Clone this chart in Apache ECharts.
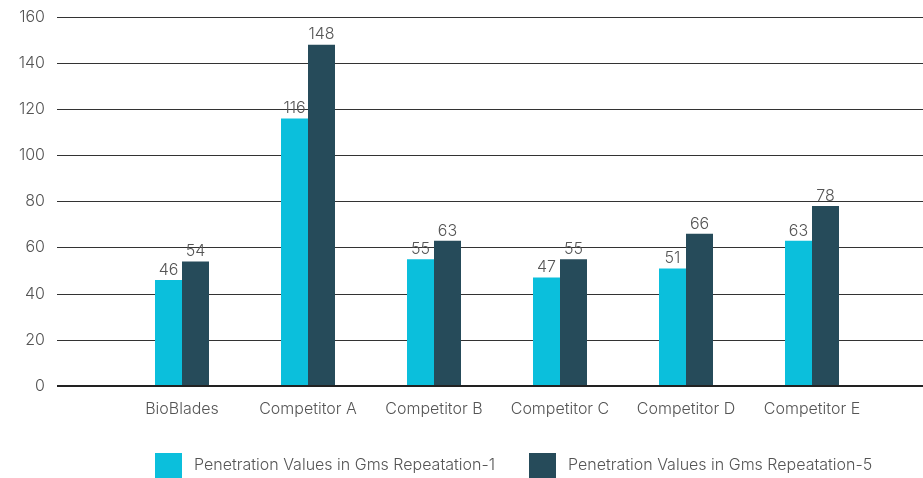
<!DOCTYPE html>
<html>
<head>
<meta charset="utf-8">
<script src="https://cdn.jsdelivr.net/npm/echarts@6/dist/echarts.min.js"></script>
<style>html,body{margin:0;padding:0;background:#fff;}#c{width:923px;height:478px;}</style>
</head>
<body>
<div id="c"></div>
<script>
const categories = ['BioBlades', 'Competitor A', 'Competitor B', 'Competitor C', 'Competitor D', 'Competitor E'];
const seriesNames = ['Penetration Values in Gms Repeatation-1', 'Penetration Values in Gms Repeatation-5'];
const rep1 = [46, 116, 55, 47, 51, 63];
const rep5 = [54, 148, 63, 55, 66, 78];
const yTicks = { min: 0, max: 160, interval: 20 };

const FONT = 'Inter';
const TXT = '#555';
const chart = echarts.init(document.getElementById('c'));
chart.setOption({
  animation: false,
  backgroundColor: '#fff',
  textStyle: { fontFamily: FONT },
  grid: [
    { left: 57, right: 0, top: 17, bottom: 92, containLabel: false },
    { left: 119, right: 48, top: 17, bottom: 92, containLabel: false }
  ],
  legend: {
    left: 150, top: 448,
    itemWidth: 27, itemHeight: 25, itemGap: 34,
    icon: 'rect',
    textStyle: { color: TXT, fontSize: 16, fontWeight: 300, fontFamily: FONT, padding: [0, 0, 0, 7] },
    data: seriesNames
  },
  xAxis: [
    { gridIndex: 0, type: 'category', data: categories, show: false },
    {
      gridIndex: 1, type: 'category', data: categories,
      axisLine: { show: false }, axisTick: { show: false },
      axisLabel: { interval: 0, color: TXT, fontSize: 16, fontWeight: 300, margin: 15, fontFamily: FONT }
    }
  ],
  yAxis: [
    {
      gridIndex: 0, type: 'value', min: yTicks.min, max: yTicks.max, interval: yTicks.interval,
      axisLine: { show: false }, axisTick: { show: false },
      axisLabel: { color: TXT, fontSize: 16, fontWeight: 300, margin: 12, fontFamily: FONT },
      splitLine: { lineStyle: { color: '#333', width: 1 } }
    },
    {
      gridIndex: 1, type: 'value', min: yTicks.min, max: yTicks.max, interval: yTicks.interval,
      show: false, splitLine: { show: false }
    }
  ],
  series: [
    {
      name: seriesNames[0], type: 'bar', xAxisIndex: 1, yAxisIndex: 1,
      data: rep1, barWidth: 27, barGap: '0%',
      itemStyle: { color: '#0BBFDC' },
      label: { show: true, position: 'top', distance: 2, color: TXT, fontSize: 16, fontWeight: 300, fontFamily: FONT }
    },
    {
      name: seriesNames[1], type: 'bar', xAxisIndex: 1, yAxisIndex: 1,
      data: rep5, barWidth: 27, barGap: '0%',
      itemStyle: { color: '#264B5A' },
      label: { show: true, position: 'top', distance: 2, color: TXT, fontSize: 16, fontWeight: 300, fontFamily: FONT }
    },
    {
      type: 'line', xAxisIndex: 0, yAxisIndex: 0, data: [],
      markLine: {
        silent: true, symbol: 'none', label: { show: false },
        lineStyle: { color: '#222', width: 2, type: 'solid' },
        data: [{ yAxis: 0 }]
      }
    }
  ]
});
</script>
</body>
</html>
